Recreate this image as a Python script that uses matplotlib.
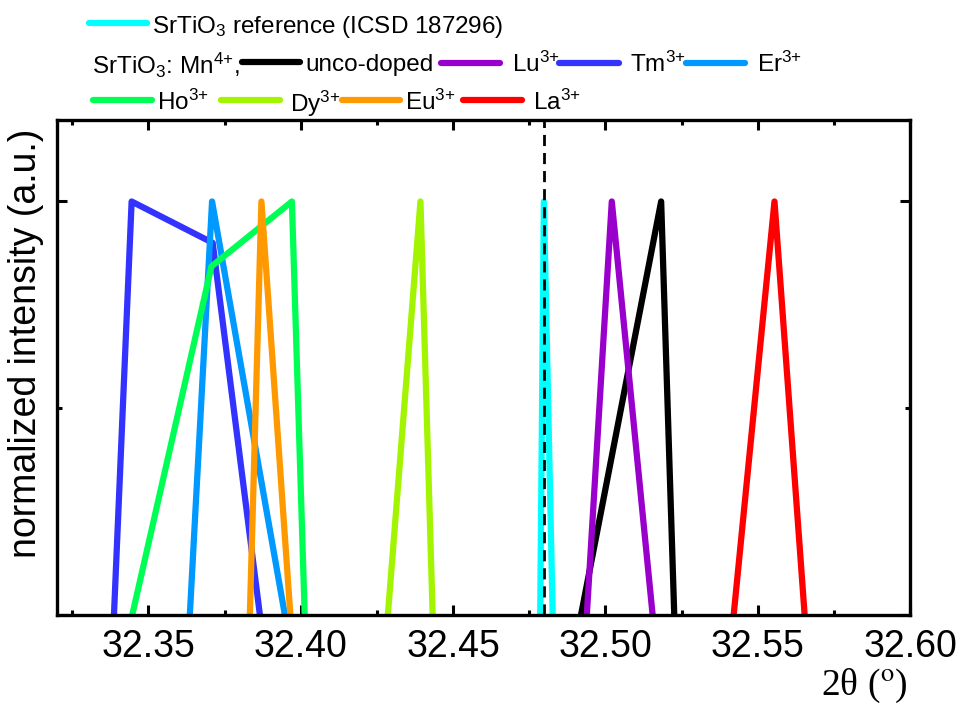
import matplotlib
matplotlib.use("Agg")
import matplotlib.pyplot as plt
from matplotlib.lines import Line2D
from matplotlib.ticker import MultipleLocator, FormatStrFormatter

plt.rcParams['font.family'] = ['Liberation Sans', 'DejaVu Sans']
plt.rcParams['mathtext.fontset'] = 'custom'
plt.rcParams['mathtext.rm'] = 'Liberation Sans'
plt.rcParams['mathtext.it'] = 'Liberation Sans:italic'
plt.rcParams['mathtext.bf'] = 'Liberation Sans:bold'

# peak profiles (2theta, normalized intensity)
ref_x = [32.4786, 32.4798, 32.4827]
ref_y = [0, 1, 0]
unco_x = [32.4920, 32.5183, 32.5226]
unco_y = [0, 1, 0]
lu_x = [32.4939, 32.5021, 32.5155]
lu_y = [0, 1, 0]
tm_x = [32.3387, 32.3445, 32.3711, 32.3866]
tm_y = [0, 1, 0.9, 0]
er_x = [32.3636, 32.3709, 32.3948]
er_y = [0, 1, 0]
ho_x = [32.3447, 32.3707, 32.3971, 32.4013]
ho_y = [0, 0.843, 1, 0]
dy_x = [32.4286, 32.4393, 32.4433]
dy_y = [0, 1, 0]
eu_x = [32.3833, 32.3871, 32.3966]
eu_y = [0, 1, 0]
la_x = [32.5421, 32.5555, 32.5654]
la_y = [0, 1, 0]
ref_line = 32.4797

c_ref = '#00FFFF'
c_unco = '#000000'
c_lu = '#9900CC'
c_tm = '#3333FF'
c_er = '#0099FF'
c_ho = '#00FF55'
c_dy = '#A3F400'
c_eu = '#FF9900'
c_la = '#FF0000'

LW = 4.5

fig = plt.figure(figsize=(9.61, 7.06), dpi=100)
ax = fig.add_axes([0.0593, 0.1289, 0.8877, 0.7011])

series = [
    (unco_x, unco_y, c_unco),
    (lu_x, lu_y, c_lu),
    (tm_x, tm_y, c_tm),
    (er_x, er_y, c_er),
    (ho_x, ho_y, c_ho),
    (dy_x, dy_y, c_dy),
    (eu_x, eu_y, c_eu),
    (la_x, la_y, c_la),
    (ref_x, ref_y, c_ref),
]
for xs, ys, c in series:
    ax.plot(xs, ys, color=c, lw=LW, solid_joinstyle='round', solid_capstyle='round')

ax.axvline(ref_line, color='black', lw=2, ls=(0, (4, 2.5)))

ax.set_xlim(32.32, 32.60)
ax.set_ylim(0, 1.197)
ax.xaxis.set_major_locator(MultipleLocator(0.05))
ax.xaxis.set_minor_locator(MultipleLocator(0.025))
ax.xaxis.set_major_formatter(FormatStrFormatter('%.2f'))
ax.yaxis.set_major_locator(MultipleLocator(1.0))
ax.yaxis.set_minor_locator(MultipleLocator(0.5))
ax.tick_params(which='both', direction='in', top=True, right=True, width=2.2)
ax.tick_params(which='major', length=7.5, pad=10, labelsize=27)
ax.tick_params(which='minor', length=3.5)
ax.tick_params(axis='y', labelleft=False)
for sp in ax.spines.values():
    sp.set_linewidth(2.4)

fig.text(0.027, 0.514, 'normalized intensity (a.u.)', rotation=90,
         ha='center', va='center', fontsize=27)
fig.text(0.9, 0.016, r'2θ ($^{\mathrm{o}}$)', ha='center', va='baseline',
         fontsize=27, family='Liberation Serif', math_fontfamily='stix')

# legend drawn by hand in figure pixels
W, H = 961.0, 706.0
FS = 17.5


def handle(x0, x1, y, c):
    fig.add_artist(Line2D([x0 / W, x1 / W], [1 - y / H, 1 - y / H],
                          transform=fig.transFigure, color=c, lw=LW,
                          solid_capstyle='round'))


def label(x, y, s):
    fig.text(x / W, 1 - y / H, s, ha='left', va='center_baseline', fontsize=FS)


handle(89, 147, 23, c_ref)
label(152, 23, r'SrTiO$_3$ reference (ICSD 187296)')

label(92, 62, r'SrTiO$_3$: Mn$^{4{+}}$,')
handle(242, 300, 62, c_unco)
label(305, 62, 'unco-doped')
handle(441, 500, 63, c_lu)
label(512, 62, r'Lu$^{3{+}}$')
handle(559, 619, 63, c_tm)
label(630, 62, r'Tm$^{3{+}}$')
handle(686, 745, 63, c_er)
label(757, 62, r'Er$^{3{+}}$')

handle(93, 152, 100, c_ho)
label(157, 100, r'Ho$^{3{+}}$')
handle(221, 280, 100, c_dy)
label(290, 100, r'Dy$^{3{+}}$')
handle(342, 400, 100, c_eu)
label(405, 100, r'Eu$^{3{+}}$')
handle(463, 522, 100, c_la)
label(533, 100, r'La$^{3{+}}$')

fig.savefig('out.png', dpi=100)
